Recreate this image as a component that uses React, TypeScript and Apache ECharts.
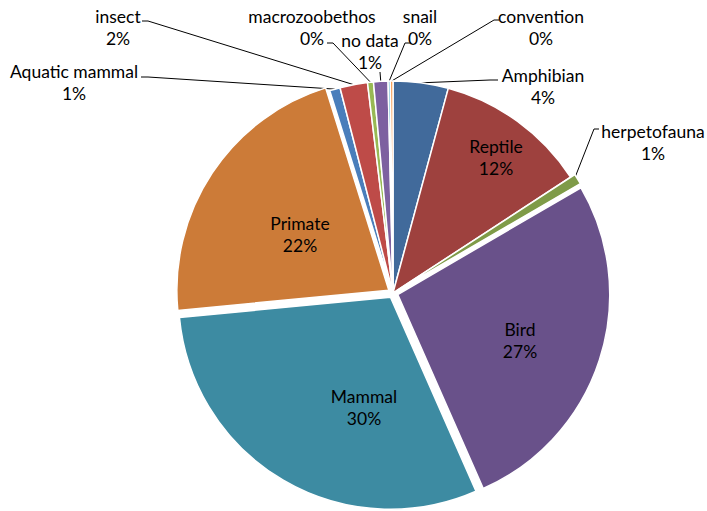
import React, { useEffect, useRef } from "react";
import * as echarts from "echarts";

const categories = [
  "Amphibian",
  "Reptile",
  "herpetofauna",
  "Bird",
  "Mammal",
  "Primate",
  "Aquatic mammal",
  "insect",
  "macrozoobethos",
  "no data",
  "snail",
  "convention",
];
const values = [4.2, 11.6, 0.8, 26.8, 30.1, 21.7, 0.8, 2.1, 0.45, 1.1, 0.17, 0.2];
const exploded = ["herpetofauna", "Bird", "Mammal", "Primate"];
const insideLabels = ["Reptile", "Bird", "Mammal", "Primate"];

const colors = [
  "#416A9B",
  "#9E413E",
  "#7F9B48",
  "#69518A",
  "#3D8BA2",
  "#CC7B38",
  "#4A7EBB",
  "#BE4B48",
  "#98B954",
  "#7D60A0",
  "#46AAC5",
  "#F69546",
];

// label block centres (layout only)
const labelPos: Record<string, [number, number]> = {
  Amphibian: [543, 86],
  Reptile: [496, 157],
  herpetofauna: [653, 142],
  Bird: [520, 340],
  Mammal: [364, 407],
  Primate: [300, 234],
  "Aquatic mammal": [74, 82],
  insect: [118, 27],
  macrozoobethos: [312, 27],
  "no data": [370, 51],
  snail: [420, 27],
  convention: [541, 27],
};

// leader line bend + end points near the label (layout only)
const leaders: Record<string, number[][]> = {
  Amphibian: [[490, 80], [498, 80]],
  herpetofauna: [[594, 129], [599, 129]],
  "Aquatic mammal": [[148, 77], [141, 77]],
  insect: [[148, 21], [142, 21]],
  macrozoobethos: [[333, 43], [327, 43]],
  "no data": [[380, 72], [380, 72]],
  snail: [[405, 43], [411, 43]],
  convention: [[494, 20], [499, 20]],
};

const CENTER = [393, 293];
const RADIUS = 212;

export default function App() {
  const ref = useRef<HTMLDivElement>(null);
  useEffect(() => {
    document.body.style.margin = "0";
    const chart = echarts.init(ref.current!, null, { renderer: "svg" });

    const sliceData = categories.map((name, i) => ({
      name,
      value: values[i],
      selected: exploded.includes(name),
      itemStyle: { color: colors[i] },
    }));

    const labelData = categories.map((name, i) => {
      const inside = insideLabels.includes(name);
      return {
        name,
        value: values[i],
        label: { position: inside ? "inside" : "outside" },
        labelLine: { show: !inside },
      };
    });

    chart.setOption({
      animation: false,
      series: [
        {
          type: "pie",
          center: CENTER,
          radius: RADIUS,
          startAngle: 90,
          clockwise: true,
          selectedMode: "multiple",
          selectedOffset: 5,
          itemStyle: { borderColor: "#fff", borderWidth: 1.5 },
          select: { itemStyle: { borderColor: "#fff", borderWidth: 1.5 } },
          emphasis: { disabled: true },
          label: { show: false },
          labelLine: { show: false },
          silent: true,
          data: sliceData,
        },
        {
          type: "pie",
          center: CENTER,
          radius: RADIUS,
          startAngle: 90,
          clockwise: true,
          avoidLabelOverlap: false,
          selectedMode: false,
          silent: true,
          itemStyle: { color: "rgba(0,0,0,0)", borderWidth: 0 },
          emphasis: { disabled: true },
          label: {
            show: true,
            formatter: (p: any) => `${p.name}\n${Math.round(p.percent)}%`,
            fontFamily: "Lato",
            fontSize: 17.5,
            lineHeight: 22,
            color: "#000",
            align: "center",
          },
          labelLine: {
            show: true,
            length: 5,
            length2: 5,
            lineStyle: { color: "#000", width: 1 },
          },
          labelLayout: (params: any) => {
            const name = categories[params.dataIndex];
            const pos = labelPos[name];
            const res: any = {
              x: pos[0],
              y: pos[1],
              align: "center",
              verticalAlign: "middle",
            };
            const lead = leaders[name];
            if (lead && params.labelLinePoints && params.labelLinePoints[0]) {
              res.labelLinePoints = [params.labelLinePoints[0], lead[0], lead[1]];
            }
            return res;
          },
          data: labelData,
        },
      ],
    });
    return () => chart.dispose();
  }, []);
  return <div ref={ref} style={{ width: 707, height: 511 }} />;
}
